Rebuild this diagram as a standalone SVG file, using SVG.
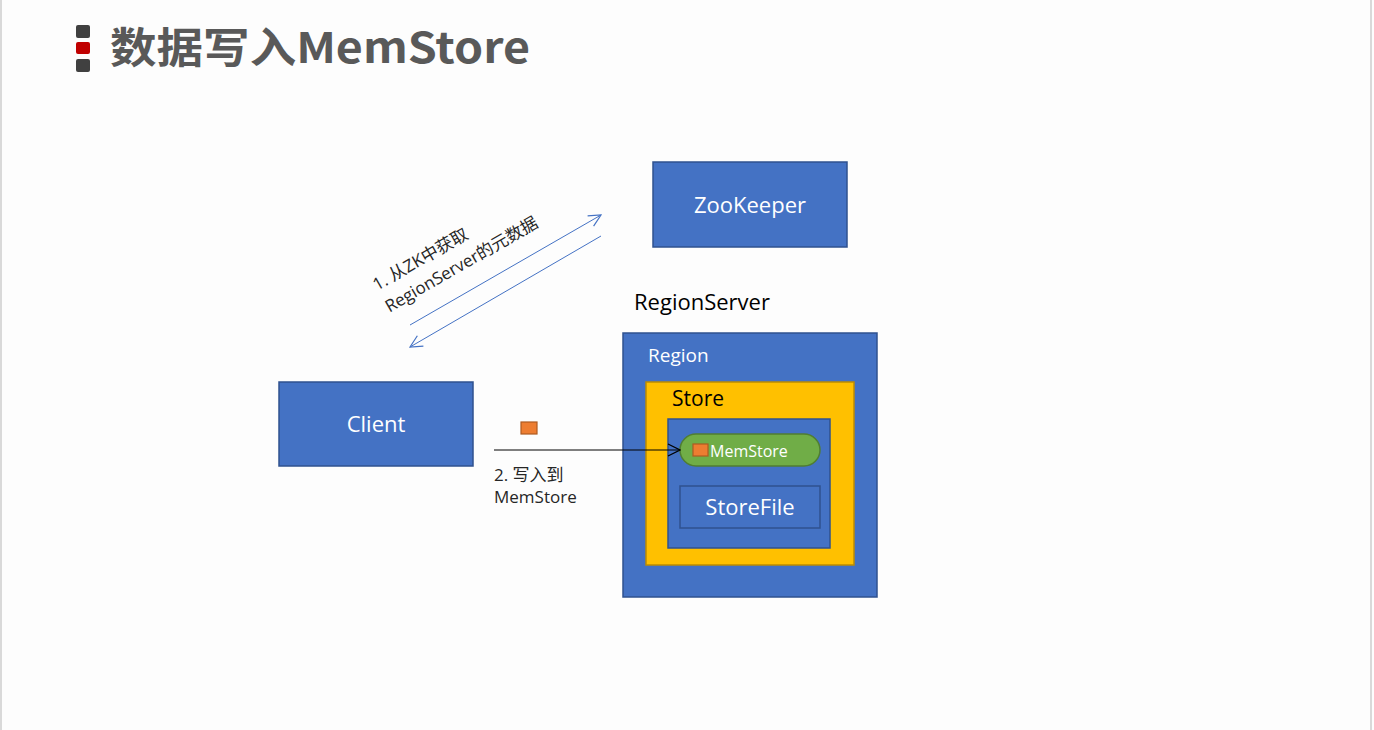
<svg xmlns="http://www.w3.org/2000/svg" width="1374" height="730" viewBox="0 0 1374 730">
<style>
.box{fill:#4472c4;stroke:#2f528f;stroke-width:1.5}
.wt{fill:#ffffff;font-family:"Open Sans","Noto Sans","Noto Sans CJK SC",sans-serif}
.bk{fill:#000000;font-family:"Open Sans","Noto Sans","Noto Sans CJK SC",sans-serif}
.lbl{fill:#262626;font-family:"Open Sans","Noto Sans","Noto Sans CJK SC",sans-serif;font-size:17px}
.ora{fill:#ed7d31;stroke:#ae5a21;stroke-width:1.2}
</style>
<defs>
<marker id="ab" viewBox="0 0 14 14" refX="13" refY="7" markerWidth="14" markerHeight="14" markerUnits="userSpaceOnUse" orient="auto">
<path d="M1,1 L13,7 L1,13" fill="none" stroke="#4472c4" stroke-width="1.2"/>
</marker>
<marker id="ak" viewBox="0 0 14 14" refX="13" refY="7" markerWidth="14" markerHeight="14" markerUnits="userSpaceOnUse" orient="auto">
<path d="M1,1 L13,7 L1,13" fill="none" stroke="#000" stroke-width="1.2"/>
</marker>
</defs>
<rect x="0" y="0" width="1374" height="730" fill="#fdfdfd"/>
<line x1="1" y1="0" x2="1" y2="730" stroke="#d9d9d9" stroke-width="2"/>
<line x1="1371" y1="0" x2="1371" y2="730" stroke="#d9d9d9" stroke-width="2"/>

<g id="title">
<rect x="76" y="25" width="14" height="13" rx="2" fill="#404040"/>
<rect x="76" y="42" width="14" height="12" rx="2" fill="#c00000"/>
<rect x="76" y="59" width="14" height="13" rx="2" fill="#404040"/>
<text x="110" y="63" font-family="'Noto Sans CJK SC','Noto Sans',sans-serif" font-weight="bold" font-size="42" fill="#595959" textLength="420" lengthAdjust="spacingAndGlyphs">数据写入MemStore</text>
</g>

<g id="zookeeper">
<rect class="box" x="653" y="162" width="194" height="85"/>
<text class="wt" x="750" y="213" font-size="22" text-anchor="middle">ZooKeeper</text>
</g>

<g id="client">
<rect class="box" x="279" y="382" width="194" height="84"/>
<text class="wt" x="376" y="432" font-size="22" text-anchor="middle">Client</text>
</g>

<g id="regionserver">
<text class="bk" x="634" y="310" font-size="22">RegionServer</text>
<rect class="box" x="623" y="333" width="254" height="264"/>
<text class="wt" x="648" y="362" font-size="19">Region</text>
</g>

<g id="store">
<rect x="646" y="382" width="208" height="183" fill="#ffc000" stroke="#bc8c00" stroke-width="1.5"/>
<text class="bk" x="672" y="406" font-size="21">Store</text>
<rect class="box" x="668" y="419" width="162" height="129"/>
</g>

<g id="memstore">
<rect x="680" y="434" width="140" height="32" rx="16" fill="#70ad47" stroke="#507e32" stroke-width="1.5"/>
<rect class="ora" x="693" y="444" width="15" height="12"/>
<text class="wt" x="710" y="457" font-size="16">MemStore</text>
</g>

<g id="storefile">
<rect class="box" x="680" y="486" width="140" height="42"/>
<text class="wt" x="750" y="515" font-size="22" text-anchor="middle">StoreFile</text>
</g>

<g id="connectors">
<line x1="410" y1="325" x2="601" y2="215" stroke="#4472c4" stroke-width="1" marker-end="url(#ab)"/>
<line x1="601" y1="236" x2="410" y2="347" stroke="#4472c4" stroke-width="1" marker-end="url(#ab)"/>
<line x1="494" y1="450" x2="680" y2="450" stroke="#000" stroke-width="1" marker-end="url(#ak)"/>
<rect class="ora" x="521" y="422" width="16" height="12"/>
</g>

<g id="labels">
<g transform="translate(377,291) rotate(-30)">
<text class="lbl" x="0" y="0">1. 从ZK中获取</text>
<text class="lbl" x="0" y="25">RegionServer的元数据</text>
</g>
<text class="lbl" x="494" y="481">2. 写入到</text>
<text class="lbl" x="494" y="503">MemStore</text>
</g>
</svg>
